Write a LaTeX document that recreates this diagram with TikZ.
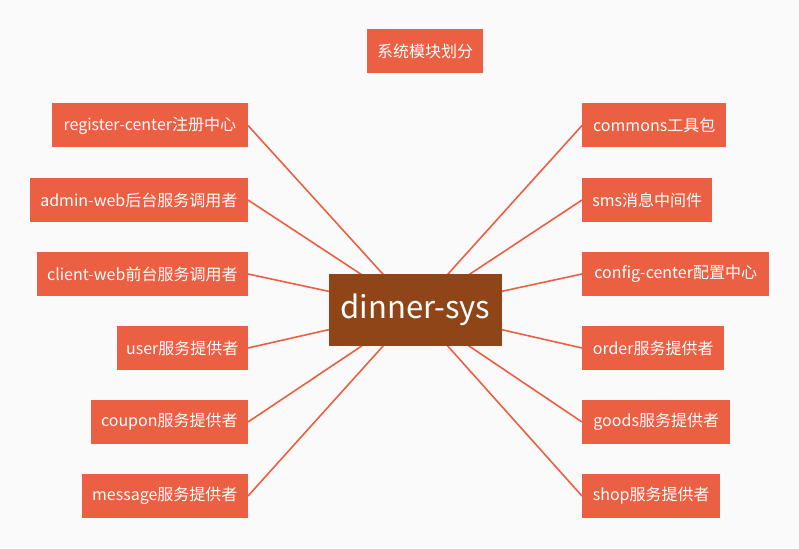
\documentclass[tikz,border=0pt]{standalone}
\usepackage{fontspec}
\setmainfont{Noto Sans CJK SC}
\usetikzlibrary{backgrounds}
\definecolor{boxorange}{HTML}{EB5F43}
\definecolor{hubbrown}{HTML}{8F4517}
\definecolor{bgcol}{HTML}{FAFAFA}
\tikzset{
  leaf/.style={fill=boxorange, text=white, inner sep=0pt, minimum height=44pt, font=\fontsize{16pt}{18pt}\selectfont},
  hub/.style={fill=hubbrown, text=white, inner sep=0pt, minimum width=173pt, minimum height=72pt, font=\fontsize{31pt}{34pt}\selectfont},
  link/.style={draw=boxorange, line width=1.6pt}
}
\begin{document}
\begin{tikzpicture}[x=1pt,y=-1pt]
\useasboundingbox (0,0) rectangle (799,548);
\node[hub] (c) at (415.5,310) {dinner-sys};
\node[leaf, minimum width=116pt] (t) at (425,51.5) {系统模块划分};
% left
\node[leaf, minimum width=196pt, anchor=east] (l1) at (248,125.5) {register-center注册中心};
\node[leaf, minimum width=218pt, anchor=east] (l2) at (248,200) {admin-web后台服务调用者};
\node[leaf, minimum width=211pt, anchor=east] (l3) at (248,274) {client-web前台服务调用者};
\node[leaf, minimum width=131pt, anchor=east] (l4) at (248,348) {user服务提供者};
\node[leaf, minimum width=157pt, anchor=east] (l5) at (248,422) {coupon服务提供者};
\node[leaf, minimum width=166pt, anchor=east] (l6) at (248,496) {message服务提供者};
% right
\node[leaf, minimum width=144pt, anchor=west] (r1) at (582,125.5) {commons工具包};
\node[leaf, minimum width=130pt, anchor=west] (r2) at (582,200) {sms消息中间件};
\node[leaf, minimum width=187pt, anchor=west] (r3) at (582,274) {config-center配置中心};
\node[leaf, minimum width=142pt, anchor=west] (r4) at (582,348) {order服务提供者};
\node[leaf, minimum width=148pt, anchor=west] (r5) at (582,422) {goods服务提供者};
\node[leaf, minimum width=138pt, anchor=west] (r6) at (582,496) {shop服务提供者};
\begin{scope}[on background layer]
\fill[bgcol] (0,0) rectangle (799,548);
\foreach \n in {l1,l2,l3,l4,l5,l6} \draw[link] (\n.east) -- (c.center);
\foreach \n in {r1,r2,r3,r4,r5,r6} \draw[link] (\n.west) -- (c.center);
\end{scope}
\end{tikzpicture}
\end{document}
